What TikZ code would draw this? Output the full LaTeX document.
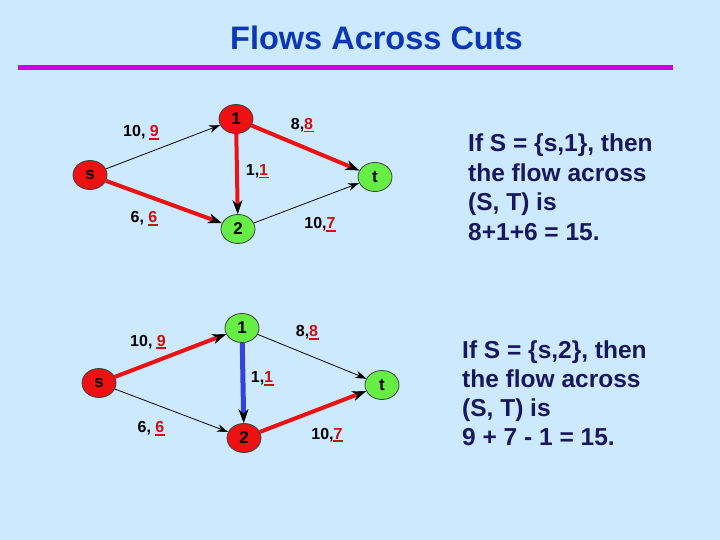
\documentclass[tikz,border=0pt]{standalone}
\usepackage{fontspec}
\setmainfont{Liberation Sans}
\usepackage{xcolor}
\usetikzlibrary{shapes.geometric,arrows.meta}
\definecolor{bgblue}{HTML}{CCE9FD}
\definecolor{titleblue}{HTML}{0B36B4}
\definecolor{textnavy}{HTML}{17175C}
\definecolor{magline}{HTML}{CC00EE}
\definecolor{nodered}{HTML}{EE1111}
\definecolor{nodegreen}{HTML}{66EE44}
\definecolor{edgered}{HTML}{EE1111}
\definecolor{edgeblue}{HTML}{3344DD}
\definecolor{flowred}{HTML}{CC1111}
\newcommand{\fv}[1]{{\color{flowred}\setbox0\hbox{#1}\rlap{\hspace{-0.5pt}\rule[-3pt]{\dimexpr\wd0+1pt\relax}{1.8pt}}\box0}}

\begin{document}
\begin{tikzpicture}[x=1pt,y=-1pt,
    vert/.style={ellipse,draw=black!75,line width=0.8pt,minimum width=34pt,minimum height=29pt,inner sep=0pt,font=\fontsize{17}{17}\selectfont\bfseries},
    src/.style={vert,fill=nodered},
    snk/.style={vert,fill=nodegreen},
    idle/.style={line width=0.8pt,-{Stealth[length=11pt,width=7.5pt,line width=0.4pt]}},
    full/.style={draw=edgered,line width=4pt,-{Stealth[black,length=14pt,width=10pt,line width=0.4pt]}},
    back/.style={draw=edgeblue,line width=5pt,-{Stealth[black,length=14pt,width=10pt,line width=0.4pt]}},
    elabel/.style={anchor=base,inner sep=0pt,font=\fontsize{16}{16}\selectfont\bfseries},
    body/.style={anchor=base west,inner sep=0pt,text=textnavy,font=\fontsize{24.5}{29}\selectfont\bfseries}]
    \useasboundingbox (0,0) rectangle (720,540);
    \fill[bgblue] (0,0) rectangle (720,540);
    % Title
    \node[anchor=base west,inner sep=0pt,text=titleblue,font=\fontsize{32.5}{32.5}\selectfont\bfseries] (title) at (230,50) {Flows Across Cuts};
    \draw[magline,line width=4.5pt] (18,67.5) -- (673,67.5);
    % Cut S = {s,1}
    \node[src] (ts) at (90,175) {s};
    \node[src] (t1) at (236,119) {1};
    \node[snk] (t2) at (238,229) {2};
    \node[snk] (tt) at (375,177) {t};
    \draw[idle] (ts) -- (t1);
    \draw[full] (ts) -- (t2);
    \draw[full] (t1) -- (t2);
    \draw[full] (t1) -- (tt);
    \draw[idle] (t2) -- (tt);
    \node[elabel] (tl-s1) at (141,137) {10, \fv{9}};
    \node[elabel] (tl-1t) at (302,129.5) {8,\fv{8}};
    \node[elabel] (tl-12) at (257,175.5) {1,\fv{1}};
    \node[elabel] (tl-s2) at (144,222.5) {6, \fv{6}};
    \node[elabel] (tl-2t) at (320,229) {10,\fv{7}};
    \foreach \ln [count=\k] in {{If S = \{s,1\}, then},{the flow across},{(S, T) is},{8+1+6 = 15.}}
        \node[body] (top-\k) at (468,{152+29.4*(\k-1)}) {\ln};
    % Cut S = {s,2}
    \node[src] (bs) at (99,383) {s};
    \node[snk] (b1) at (242,328) {1};
    \node[src] (b2) at (244,438) {2};
    \node[snk] (bt) at (382,385) {t};
    \draw[full] (bs) -- (b1);
    \draw[idle] (bs) -- (b2);
    \draw[back] (b1) -- (b2);
    \draw[idle] (b1) -- (bt);
    \draw[full] (b2) -- (bt);
    \node[elabel] (bl-s1) at (148,346) {10, \fv{9}};
    \node[elabel] (bl-1t) at (307,336.5) {8,\fv{8}};
    \node[elabel] (bl-12) at (262,382.5) {1,\fv{1}};
    \node[elabel] (bl-s2) at (151,432.5) {6, \fv{6}};
    \node[elabel] (bl-2t) at (327,439) {10,\fv{7}};
    \foreach \ln [count=\k] in {{If S = \{s,2\}, then},{the flow across},{(S, T) is},{9 + 7 - 1 = 15.}}
        \node[body] (bot-\k) at (462,{358+29*(\k-1)}) {\ln};
\end{tikzpicture}
\end{document}
